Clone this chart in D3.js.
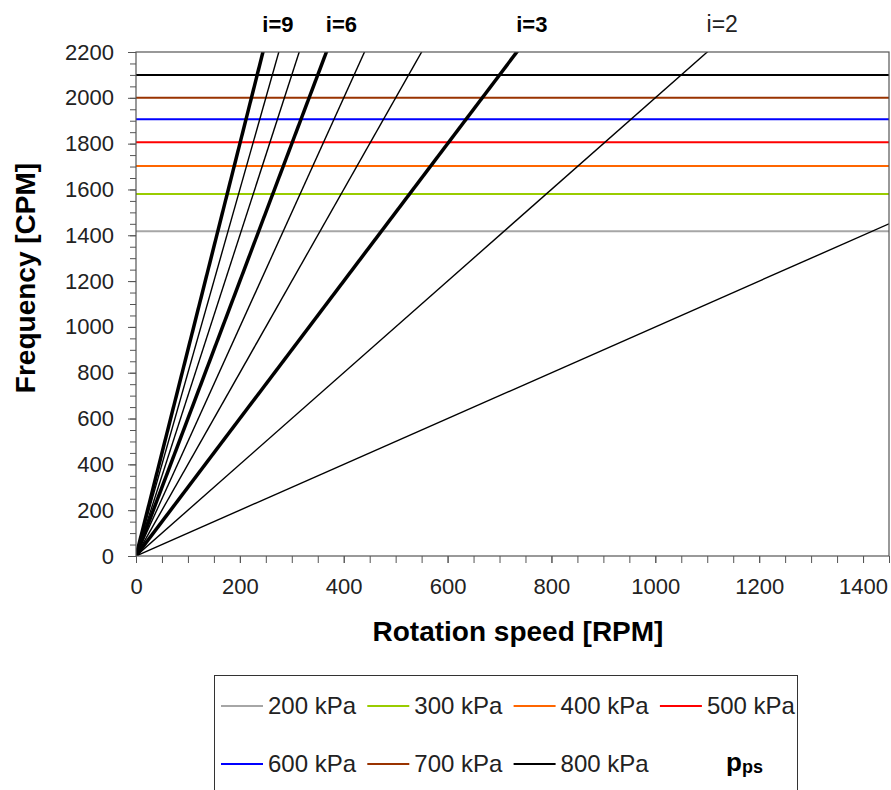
<!DOCTYPE html>
<html>
<head>
<meta charset="utf-8">
<script src="https://cdn.jsdelivr.net/npm/d3@7"></script>
<style>
    body { margin: 0; background: #fff; }
    text { font-family: "Liberation Sans", Arial, sans-serif; }
</style>
</head>
<body>
<div id="chart"></div>
<script>
// order lines: frequency = i * rotation speed
var orders = [1, 2, 3, 4, 5, 6, 7, 8, 9];
var thickOrders = [3, 6, 9];
var orderLabels = ["i=9", "i=6", "i=3", "i=2"];
var labelOrders = [9, 6, 3, 2];

// natural frequencies for each pressure
var pressures = ["200 kPa", "300 kPa", "400 kPa", "500 kPa", "600 kPa", "700 kPa", "800 kPa"];
var frequencies = [1418, 1580, 1702, 1806, 1906, 2000, 2100];
var pressureColors = ["#a6a6a6", "#99cc00", "#ff6600", "#ff0000", "#0000ff", "#993300", "#000000"];

var xTicks = [0, 200, 400, 600, 800, 1000, 1200, 1400];
var yTicks = [0, 200, 400, 600, 800, 1000, 1200, 1400, 1600, 1800, 2000, 2200];

var margin = { top: 52, left: 136 },
    width = 753,
    height = 504;

var svg = d3.select("#chart")
    .append("svg")
    .attr("width", 891)
    .attr("height", 790);

var g = svg.append("g")
    .attr("transform", "translate(" + margin.left + "," + margin.top + ")");

var x = d3.scaleLinear().domain([0, 1450]).range([0, width]);
var y = d3.scaleLinear().domain([0, 2200]).range([height, 0]);

g.append("clipPath")
    .attr("id", "plot-clip")
    .append("rect")
    .attr("width", width)
    .attr("height", height);

// minor ticks
g.append("g")
    .attr("transform", "translate(0," + height + ")")
    .call(d3.axisBottom(x).tickValues(d3.range(0, 1451, 50)).tickSize(7).tickFormat(""))
    .call(a => a.select(".domain").remove())
    .selectAll("line").attr("stroke", "#555");

g.append("g")
    .call(d3.axisLeft(y).tickValues(d3.range(0, 2201, 50)).tickSize(6).tickFormat(""))
    .call(a => a.select(".domain").remove())
    .selectAll("line").attr("stroke", "#555");

// major ticks with labels
var xAxis = g.append("g")
    .attr("transform", "translate(0," + height + ")")
    .call(d3.axisBottom(x).tickValues(xTicks).tickSize(7).tickPadding(15).tickFormat(d3.format("d")));
xAxis.select(".domain").remove();
xAxis.selectAll("line").attr("stroke", "#555");
xAxis.selectAll("text")
    .style("font-size", "22px")
    .attr("fill", "#222");

var yAxis = g.append("g")
    .call(d3.axisLeft(y).tickValues(yTicks).tickSize(8).tickPadding(14).tickFormat(d3.format("d")));
yAxis.select(".domain").remove();
yAxis.selectAll("line").attr("stroke", "#555");
yAxis.selectAll("text")
    .style("font-size", "22px")
    .attr("fill", "#222");

var plot = g.append("g").attr("clip-path", "url(#plot-clip)");

// horizontal natural frequency lines
plot.selectAll(".freq")
    .data(frequencies)
    .enter()
    .append("line")
    .attr("class", "freq")
    .attr("x1", 0)
    .attr("x2", width)
    .attr("y1", d => y(d))
    .attr("y2", d => y(d))
    .attr("stroke", (d, i) => pressureColors[i])
    .attr("stroke-width", 2);

// order lines from the origin
plot.selectAll(".order")
    .data(orders)
    .enter()
    .append("line")
    .attr("class", "order")
    .attr("x1", x(0))
    .attr("y1", y(0))
    .attr("x2", x(1450))
    .attr("y2", d => y(d * 1450))
    .attr("stroke", "#000")
    .attr("stroke-width", d => thickOrders.indexOf(d) >= 0 ? 3.5 : 1.4);

// frame
g.append("rect")
    .attr("width", width)
    .attr("height", height)
    .attr("fill", "none")
    .attr("stroke", "#555")
    .attr("stroke-width", 1.2);

// order labels above the plot
g.selectAll(".order-label")
    .data(labelOrders)
    .enter()
    .append("text")
    .attr("class", "order-label")
    .attr("x", d => x(2200 / d) + 15)
    .attr("y", -20)
    .attr("text-anchor", "middle")
    .style("font-size", d => d === 2 ? "23px" : "22px")
    .style("font-weight", d => d === 2 ? "normal" : "bold")
    .attr("fill", d => d === 2 ? "#222" : "#000")
    .text((d, i) => orderLabels[i]);

// axis titles
svg.append("text")
    .attr("x", 518)
    .attr("y", 641)
    .attr("text-anchor", "middle")
    .style("font-size", "28px")
    .style("font-weight", "bold")
    .text("Rotation speed [RPM]");

svg.append("text")
    .attr("transform", "translate(35," + 278 + ") rotate(-90)")
    .attr("text-anchor", "middle")
    .style("font-size", "28px")
    .style("font-weight", "bold")
    .text("Frequency [CPM]");

// legend
var legend = svg.append("g");
legend.append("rect")
    .attr("x", 214.5)
    .attr("y", 675.5)
    .attr("width", 583)
    .attr("height", 130)
    .attr("fill", "#fff")
    .attr("stroke", "#333")
    .attr("stroke-width", 1);

var items = legend.selectAll(".item")
    .data(pressures)
    .enter()
    .append("g")
    .attr("class", "item")
    .attr("transform", (d, i) => "translate(" + (221 + (i % 4) * 146.3) + "," + (i < 4 ? 706 : 764) + ")");

items.append("line")
    .attr("x1", 0)
    .attr("x2", 42)
    .attr("stroke", (d, i) => pressureColors[i])
    .attr("stroke-width", 2);

items.append("text")
    .attr("x", 47)
    .attr("y", 8)
    .style("font-size", "24px")
    .attr("fill", "#222")
    .text(d => d);

var pps = legend.append("text")
    .attr("x", 726)
    .attr("y", 771)
    .style("font-weight", "bold")
    .style("font-size", "26px");
pps.append("tspan").text("p");
pps.append("tspan").style("font-size", "18px").attr("dy", 2).text("ps");
</script>
</body>
</html>
